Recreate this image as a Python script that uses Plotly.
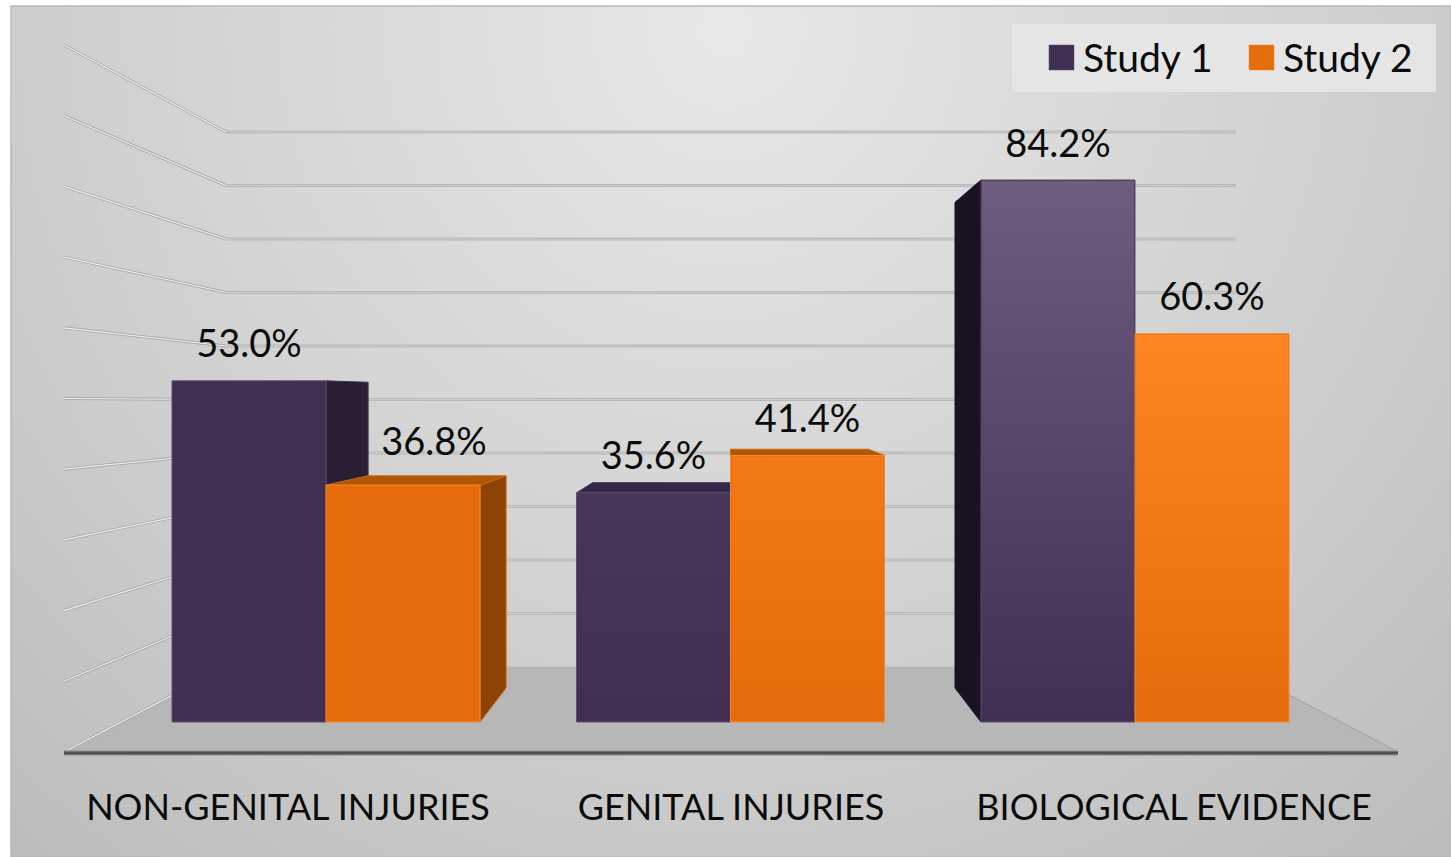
import plotly.graph_objects as go

# ---- data ----
categories = ["NON-GENITAL INJURIES", "GENITAL INJURIES", "BIOLOGICAL EVIDENCE"]
study1 = [53.0, 35.6, 84.2]
study2 = [36.8, 41.4, 60.3]
series_names = ["Study 1", "Study 2"]
grid_values = [0, 10, 20, 30, 40, 50, 60, 70, 80, 90, 100]

# ---- scale helpers (page pixels <-> data units) ----
W, H = 1451, 857
PL, PT = 11, 6
X0, XS = 326.0, 404.5     # pixel of group 0, pixels per group
Y0, YS = 722.0, 6.437     # pixel of value 0 on the bar plane, pixels per %
def dx(px): return (px - X0) / XS
def dy(py): return (Y0 - py) / YS
def py_of(v): return Y0 - YS * v
BAR_W = 154.0
VPX, VPY, DEPTH = 731.0, 395.0, 0.104
FONT = "Lato"
INK = "#0b0b0b"

def push(px, py):
    return px + DEPTH * (VPX - px), py + DEPTH * (VPY - py)

fig = go.Figure()

def poly(points, fill, line=None, width=1, xa="x", ya="y", gradient=None):
    xs = [dx(p[0]) for p in points] + [dx(points[0][0])]
    ys = [dy(p[1]) for p in points] + [dy(points[0][1])]
    kw = dict(fillgradient=gradient) if gradient else dict(fillcolor=fill)
    fig.add_trace(go.Scatter(x=xs, y=ys, mode="lines", fill="toself",
                             line=dict(color=line or fill or "rgba(0,0,0,0)", width=width),
                             hoverinfo="skip", showlegend=False, xaxis=xa, yaxis=ya, **kw))

def seg(p, q, color, width):
    fig.add_trace(go.Scatter(x=[dx(p[0]), dx(q[0])], y=[dy(p[1]), dy(q[1])], mode="lines",
                             line=dict(color=color, width=width),
                             hoverinfo="skip", showlegend=False))

# ---- panel background ----
CX, CY, R = 725, 30, 1150
poly([(CX - R, CY - R), (CX + R, CY - R), (CX + R, CY + R), (CX - R, CY + R)], None, width=0,
     gradient=dict(type="radial", colorscale=[[0, "#e8e8e8"], [0.66, "#cbcbcb"], [1, "#b9b9b9"]]))

# ---- floor ----
FL, FR, BL, BR = 64, 1398, 226, 1236
FY, BY = 752, 667
poly([(FL, FY), (BL, BY), (BR, BY), (FR, FY)], "#b7b7b7", line="#b7b7b7")

# ---- walls and grid ----
for v in grid_values:
    back = BY - 5.35 * v
    front = FY - 7.07 * v
    if v:
        seg((BL, back), (BR, back), "#b8b8b8", 3)
        seg((BL, back), (BR, back), "#cdcdcd", 1)
    seg((FL, front), (BL, back), "#a8a8a8", 3)
    seg((FL, front), (BL, back), "#f0f0f0", 1.2)
seg((BR, BY), (FR, FY), "#a6a6a6", 1.2)
seg((FL, FY + 1), (FR, FY + 1), "#9a9a9a", 5.5)
seg((FL, FY + 1), (FR, FY + 1), "#4f4f4f", 3)

# ---- 3-D faces of the bars (below the front faces) ----
PURPLE, ORANGE = "#402f50", "#e56c0a"
face_style = {
    0: dict(side="#2a1e35", left="#1a1222", top="#36274a", edge="#43345a"),
    1: dict(side="#8c4304", left="#8c4304", top="#b05500", edge="#c96a10"),
}
def bar_edges(g, s):
    gx = X0 + XS * g
    return (gx - BAR_W, gx) if s == 0 else (gx, gx + BAR_W)

for s, vals in enumerate([study1, study2]):
    st = face_style[s]
    for g, v in enumerate(vals):
        l, r = bar_edges(g, s)
        t = py_of(v)
        if r < VPX:
            poly([(r, t), push(r, t), push(r, Y0), (r, Y0)], st["side"], line=st["edge"])
        if l > VPX:
            poly([(l, t), push(l, t), push(l, Y0), (l, Y0)], st["left"], line=st["left"])
        if t > VPY:
            poly([(l, t), push(l, t), push(r, t), (r, t)], st["top"], line=st["edge"])

# ---- front faces ----
gap = 1 - 2 * BAR_W / XS
for name, vals, col, edge in [(series_names[0], study1, PURPLE, "#5f4f70"),
                              (series_names[1], study2, ORANGE, "#f08a2c")]:
    fig.add_trace(go.Bar(x=[0, 1, 2], y=vals, name=name, xaxis="x2", yaxis="y2",
                         marker=dict(color=col, line=dict(color=edge, width=1)),
                         showlegend=False, hovertemplate="%{y:.1f}%<extra>" + name + "</extra>"))

# lighter sheen on the right-hand groups
sheen = {(1, 0): "#483759", (1, 1): "#f27915", (2, 0): "#6d5c7d", (2, 1): "#ff8522"}
for (g, s), top_col in sheen.items():
    v = (study1 if s == 0 else study2)[g]
    l, r = bar_edges(g, s)
    t = py_of(v)
    base = PURPLE if s == 0 else ORANGE
    poly([(l + 1, t + 1), (r - 1, t + 1), (r - 1, Y0 - 1), (l + 1, Y0 - 1)], None, width=0, xa="x2", ya="y2",
         gradient=dict(type="vertical", colorscale=[[0, base], [1, top_col]]))

# ---- data labels ----
label_shift = {(0, 1): (31, -7)}
for s, vals in enumerate([study1, study2]):
    xs, ys, txt = [], [], []
    for g, v in enumerate(vals):
        l, r = bar_edges(g, s)
        sx, sy = label_shift.get((g, s), (0, 0))
        xs.append(dx((l + r) / 2 + sx))
        ys.append(dy(py_of(v) - 33 + sy))
        txt.append(f"{v:.1f}%")
    fig.add_trace(go.Scatter(x=xs, y=ys, text=txt, mode="text", xaxis="x2", yaxis="y2",
                             textfont=dict(family=FONT, size=38, color=INK),
                             textposition="middle center", hoverinfo="skip", showlegend=False))

# ---- invisible carrier for the category-label axis ----
fig.add_trace(go.Scatter(x=[0, 1, 2], y=[0, 0, 0], mode="markers", marker=dict(opacity=0),
                         xaxis="x3", yaxis="y", hoverinfo="skip", showlegend=False))

xr = [dx(PL), dx(W)]
yr = [dy(H), dy(PT)]
LX0, LXS = 288.0, 443.0   # category labels are spread wider than the bars

fig.update_layout(
    width=W, height=H, autosize=False,
    margin=dict(l=PL, r=0, t=PT, b=0, pad=0),
    paper_bgcolor="white", plot_bgcolor="#c9c9c9",
    showlegend=False, bargap=gap, bargroupgap=0, barmode="group",
    xaxis=dict(range=xr, visible=False, domain=[0, 1]),
    yaxis=dict(range=yr, visible=False, domain=[0, 1]),
    xaxis2=dict(range=xr, visible=False, overlaying="x", anchor="y2"),
    yaxis2=dict(range=yr, visible=False, overlaying="y", anchor="x2"),
    xaxis3=dict(range=[(PL - LX0) / LXS, (W - LX0) / LXS], overlaying="x", anchor="free",
                position=(H - 783) / (H - PT), tickmode="array", tickvals=[0, 1, 2],
                ticktext=categories, ticks="", showgrid=False, zeroline=False, showline=False,
                tickfont=dict(family=FONT, size=36, color=INK)),
    shapes=[
        dict(type="rect", xref="paper", yref="paper", x0=0, x1=1, y0=0, y1=1, layer="above",
             line=dict(color="#b9b9b9", width=1.5), fillcolor="rgba(0,0,0,0)"),
        dict(type="rect", xref="x", yref="y", x0=dx(1012), x1=dx(1436), y0=dy(92), y1=dy(24),
             layer="above", line=dict(width=0), fillcolor="#e5e5e5"),
        dict(type="rect", xref="x", yref="y", x0=dx(1049), x1=dx(1074), y0=dy(70), y1=dy(45),
             layer="above", line=dict(color="#5f4f70", width=0.5), fillcolor=PURPLE),
        dict(type="rect", xref="x", yref="y", x0=dx(1249), x1=dx(1274), y0=dy(70), y1=dy(45),
             layer="above", line=dict(color="#f08a2c", width=0.5), fillcolor=ORANGE),
    ],
    annotations=[
        dict(xref="x", yref="y", x=dx(px), y=dy(57), text=t, showarrow=False, xanchor="left",
             yanchor="middle", font=dict(family=FONT, size=39, color=INK))
        for px, t in [(1081, series_names[0]), (1281, series_names[1])]
    ],
)

fig.write_html("out.html", config={"displayModeBar": False},
               post_script="document.body.style.margin='0';document.body.style.overflow='hidden';")
